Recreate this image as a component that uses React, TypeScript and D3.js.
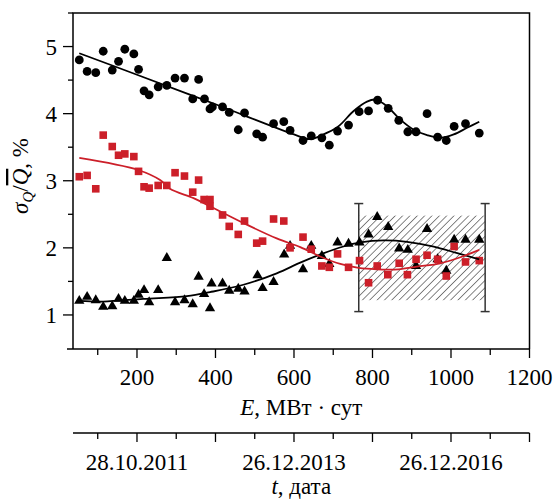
import React from "react";
import * as d3 from "d3";

// ---- data ----
const circleE = [53, 73, 95, 114, 137, 153, 169, 192, 204, 218, 231, 254, 276, 297, 321, 342, 357, 372, 386, 392, 418, 435, 458, 474, 505, 520, 548, 574, 590, 623, 644, 671, 690, 711, 739, 766, 790, 813, 840, 867, 890, 911, 939, 966, 988, 1008, 1037, 1072];
const circleV = [4.80, 4.63, 4.61, 4.93, 4.65, 4.78, 4.96, 4.89, 4.66, 4.34, 4.28, 4.40, 4.42, 4.53, 4.53, 4.22, 4.51, 4.22, 4.07, 4.10, 4.10, 4.02, 3.76, 4.01, 3.70, 3.65, 3.85, 3.88, 3.75, 3.60, 3.67, 3.64, 3.53, 3.74, 3.83, 4.03, 4.04, 4.20, 4.08, 3.90, 3.73, 3.73, 4.00, 3.65, 3.60, 3.81, 3.85, 3.71];

const squareE = [53, 73, 95, 114, 137, 153, 169, 192, 204, 218, 231, 254, 276, 297, 321, 342, 357, 371, 386, 386, 418, 435, 458, 474, 505, 520, 548, 574, 590, 623, 644, 671, 690, 711, 739, 767, 790, 812, 839, 868, 889, 911, 939, 966, 988, 1008, 1037, 1072];
const squareV = [3.06, 3.08, 2.88, 3.68, 3.51, 3.38, 3.40, 3.36, 3.14, 2.91, 2.89, 2.93, 2.93, 3.12, 3.07, 2.83, 3.01, 2.72, 2.72, 2.62, 2.49, 2.32, 2.20, 2.40, 2.07, 2.10, 2.43, 2.40, 2.00, 2.16, 1.98, 1.73, 1.71, 1.91, 1.71, 1.81, 1.48, 1.73, 1.60, 1.77, 1.60, 1.83, 1.89, 1.83, 1.58, 2.02, 1.79, 1.81];

const triE = [53, 73, 95, 114, 137, 153, 169, 192, 204, 218, 231, 254, 276, 297, 321, 342, 357, 371, 386, 390, 418, 435, 458, 474, 507, 520, 548, 575, 590, 623, 644, 671, 690, 711, 739, 767, 790, 812, 840, 868, 890, 911, 939, 966, 988, 1008, 1037, 1072];
const triV = [1.21, 1.27, 1.22, 1.12, 1.13, 1.24, 1.21, 1.21, 1.30, 1.37, 1.19, 1.37, 1.85, 1.19, 1.22, 1.16, 1.57, 1.31, 1.10, 1.47, 1.47, 1.36, 1.39, 1.35, 1.59, 1.40, 1.49, 1.90, 2.03, 1.68, 2.03, 1.88, 1.76, 2.08, 2.06, 2.08, 2.20, 2.46, 2.31, 1.99, 1.97, 1.73, 2.28, 1.83, 1.66, 2.12, 2.12, 2.12];

// fitted curves
const circleFitE = [53, 200, 400, 600, 640, 671, 711, 752, 786, 808, 837, 871, 905, 939, 973, 1007, 1041, 1072];
const circleFitV = [4.90, 4.58, 4.14, 3.69, 3.62, 3.68, 3.80, 4.04, 4.18, 4.21, 4.11, 3.91, 3.76, 3.68, 3.64, 3.69, 3.79, 3.88];

const squareFitE = [53, 203, 259, 284, 344, 386, 471, 556, 616, 671, 718, 765, 811, 866, 913, 973, 1024, 1072];
const squareFitV = [3.34, 3.16, 3.01, 2.88, 2.74, 2.62, 2.37, 2.14, 2.01, 1.86, 1.76, 1.70, 1.68, 1.68, 1.72, 1.77, 1.86, 1.97];

const triFitE = [53, 114, 216, 327, 386, 471, 556, 616, 671, 726, 769, 829, 888, 956, 1016, 1072];
const triFitV = [1.21, 1.20, 1.24, 1.28, 1.34, 1.45, 1.62, 1.78, 1.91, 2.02, 2.08, 2.11, 2.09, 2.02, 1.92, 1.83];

// uncertainty band
const bandE = [765, 1087];
const bandV = [1.22, 2.48];
const errV = [1.05, 2.66];

const xMajorTicks = [200, 400, 600, 800, 1000, 1200];
const xMinorTicks = [100, 300, 500, 700, 900, 1100];
const yMajorTicks = [1, 2, 3, 4, 5];
const yMinorTicks = [1.5, 2.5, 3.5, 4.5, 5.5];
const dateTickE = [200, 600, 1000];
const dateLabels = ["28.10.2011", "26.12.2013", "26.12.2016"];

const RED = "#cc1f29";
const FONT = "'Liberation Serif', 'Times New Roman', serif";
const FS = 23;

export default function App() {
  const W = 557, H = 502;
  const left = 73, right = 529.5, top = 13, bottom = 349;
  const x = d3.scaleLinear().domain([37, 1200]).range([left, right]);
  const y = d3.scaleLinear().domain([0.5, 5.5]).range([348.5, 13]);

  const line = (es: number[], vs: number[]) =>
    d3.line<number>()
      .x((_, i) => x(es[i]))
      .y((d) => y(d))
      .curve(d3.curveCatmullRom.alpha(0.5))(vs) || "";

  const tri = d3.symbol().type(d3.symbolTriangle).size(46)() || "";

  const axis2Y = 433;

  return (
    <svg width={W} height={H} style={{ position: "absolute", left: 0, top: 0 }} fontFamily={FONT}>
      <defs>
        <pattern id="hatch" patternUnits="userSpaceOnUse" width={5.2} height={10} patternTransform="rotate(45)">
          <line x1={0} y1={0} x2={0} y2={10} stroke="#222" strokeWidth={1.1} />
        </pattern>
        <clipPath id="plotclip">
          <rect x={left} y={top} width={right - left} height={bottom - top} />
        </clipPath>
      </defs>
      <rect width={W} height={H} fill="#fff" />

      {/* hatched band */}
      <rect x={x(bandE[0])} y={y(bandV[1])} width={x(bandE[1]) - x(bandE[0])} height={y(bandV[0]) - y(bandV[1])} fill="url(#hatch)" />
      {bandE.map((e, i) => (
        <g key={"eb" + i} stroke="#333" strokeWidth={1.5}>
          <line x1={x(e)} x2={x(e)} y1={y(errV[0])} y2={y(errV[1])} />
          <line x1={x(e) - 4.5} x2={x(e) + 4.5} y1={y(errV[0])} y2={y(errV[0])} />
          <line x1={x(e) - 4.5} x2={x(e) + 4.5} y1={y(errV[1])} y2={y(errV[1])} />
        </g>
      ))}

      <g clipPath="url(#plotclip)">
        {triE.map((e, i) => (
          <path key={"t" + i} d={tri} transform={`translate(${x(e)},${y(triV[i])})`} fill="#000" />
        ))}
        {squareE.map((e, i) => (
          <rect key={"s" + i} x={x(e) - 3.8} y={y(squareV[i]) - 3.8} width={7.6} height={7.6} fill={RED} />
        ))}
        {circleE.map((e, i) => (
          <circle key={"c" + i} cx={x(e)} cy={y(circleV[i])} r={4.4} fill="#000" />
        ))}
        <path d={line(triFitE, triFitV)} fill="none" stroke="#000" strokeWidth={1.8} />
        <path d={line(squareFitE, squareFitV)} fill="none" stroke={RED} strokeWidth={1.8} />
        <path d={line(circleFitE, circleFitV)} fill="none" stroke="#000" strokeWidth={1.8} />
      </g>

      {/* frame */}
      <path d={`M${left},${bottom} V${top} H${right} V${bottom}`} fill="none" stroke="#000" strokeWidth={1.5} />
      <line x1={67} x2={right} y1={bottom} y2={bottom} stroke="#000" strokeWidth={1.5} />

      {/* x ticks */}
      {xMajorTicks.map((t) => (
        <g key={"xm" + t}>
          <line x1={x(t)} x2={x(t)} y1={bottom} y2={bottom + 9} stroke="#000" strokeWidth={1.3} />
          <text x={x(t)} y={385} textAnchor="middle" fontSize={FS}>{t}</text>
        </g>
      ))}
      {xMinorTicks.map((t) => (
        <line key={"xn" + t} x1={x(t)} x2={x(t)} y1={bottom} y2={bottom + 6} stroke="#000" strokeWidth={1.3} />
      ))}
      <text x={(left + right) / 2} y={415} textAnchor="middle" fontSize={FS}>
        <tspan fontStyle="italic">E</tspan>, МВт · сут
      </text>

      {/* y ticks */}
      {yMajorTicks.map((t) => (
        <g key={"ym" + t}>
          <line x1={left - 10} x2={left} y1={y(t)} y2={y(t)} stroke="#000" strokeWidth={1.3} />
          <text x={57} y={y(t) + 8} textAnchor="end" fontSize={FS}>{t}</text>
        </g>
      ))}
      {yMinorTicks.map((t) => (
        <line key={"yn" + t} x1={left - 5} x2={left} y1={y(t)} y2={y(t)} stroke="#000" strokeWidth={1.3} />
      ))}
      <text transform="translate(28,176) rotate(-90)" textAnchor="middle" fontSize={FS}>
        <tspan fontStyle="italic">σ</tspan>
        <tspan fontStyle="italic" fontSize={15} dy={5}>Q</tspan>
        <tspan dy={-5}>/</tspan>
        <tspan fontStyle="italic" style={{ textDecoration: "overline" }}>Q</tspan>
        <tspan>, %</tspan>
      </text>

      {/* date axis */}
      <line x1={left} x2={right} y1={axis2Y} y2={axis2Y} stroke="#000" strokeWidth={1.5} />
      {xMajorTicks.map((t) => (
        <line key={"dm" + t} x1={x(t)} x2={x(t)} y1={axis2Y} y2={axis2Y + 9} stroke="#000" strokeWidth={1.3} />
      ))}
      {xMinorTicks.map((t) => (
        <line key={"dn" + t} x1={x(t)} x2={x(t)} y1={axis2Y} y2={axis2Y + 6} stroke="#000" strokeWidth={1.3} />
      ))}
      {dateTickE.map((t, i) => (
        <text key={"dl" + t} x={x(t)} y={470} textAnchor="middle" fontSize={FS}>{dateLabels[i]}</text>
      ))}
      <text x={(left + right) / 2} y={494} textAnchor="middle" fontSize={FS}>
        <tspan fontStyle="italic">t</tspan>, дата
      </text>
    </svg>
  );
}
